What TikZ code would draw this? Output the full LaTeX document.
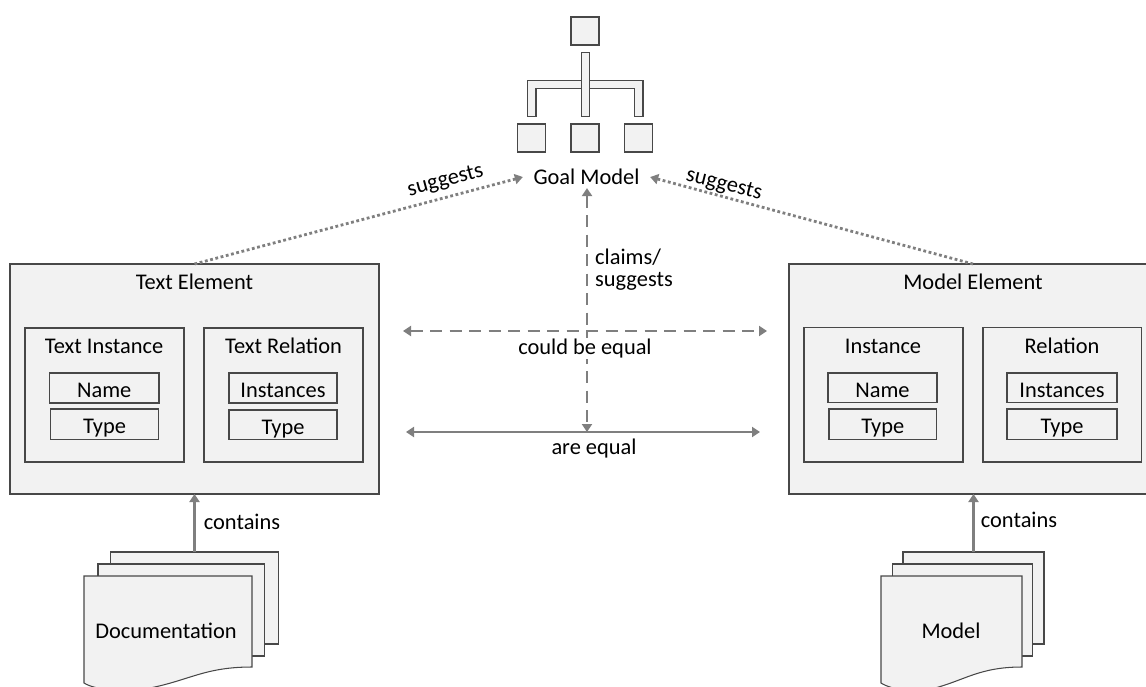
\documentclass[tikz,border=0pt]{standalone}
\usepackage{fontspec}
\setmainfont{Carlito}
\usetikzlibrary{arrows.meta}
\definecolor{fillg}{HTML}{F2F2F2}
\definecolor{edgeg}{HTML}{484848}
\definecolor{linkg}{HTML}{7F7F7F}
\newcommand{\fsz}{\fontsize{22.4}{21.5}\selectfont}
\newcommand{\bt}[1]{\raisebox{-9.5pt}[0pt][0pt]{\fsz #1}}
\newcommand{\bx}[6]{%
  \pgfmathsetmacro{\cxx}{(#2+#4)/2}\pgfmathsetmacro{\cyy}{(#3+#5)/2}%
  \pgfmathsetmacro{\wdd}{#4-#2}\pgfmathsetmacro{\htt}{#5-#3}%
  \node[boxst,minimum width=\wdd pt,minimum height=\htt pt] (#1) at (\cxx,\cyy) {#6};}
\tikzset{
  boxst/.style={draw=edgeg,fill=fillg,line width=1.05pt,inner sep=0pt,outer sep=0pt},
  txt/.style={font=\fsz,text=black,inner sep=0pt},
  link/.style={draw=linkg,line width=2.8pt,-{Triangle[length=8pt,width=10pt]}},
  biglink/.style={draw=linkg,line width=2.8pt,{Triangle[length=8pt,width=10pt]}-{Triangle[length=8pt,width=10pt]}},
  dotst/.style={dash pattern=on 2.8pt off 2.6pt},
  dashst/.style={dash pattern=on 12pt off 7.5pt},
}
\begin{document}
\begin{tikzpicture}[x=1pt,y=-1pt]
\useasboundingbox (0,0) rectangle (1146,686);
\begin{scope}
\clip (0,0) rectangle (1146,686);
% goal hierarchy
\bx{gtop}{571}{17}{599}{45}{}
\bx{gl}{517.5}{124}{545.5}{152}{}
\bx{gm}{571}{124}{599}{152}{}
\bx{gr}{624.5}{124}{652.5}{152}{}
\draw[boxst] (581.5,52.5) -- (589.5,52.5) -- (589.5,80.5) -- (643,80.5) -- (643,116.5) -- (634.5,116.5) -- (634.5,88.5) -- (589.5,88.5) -- (589.5,116.5) -- (581.5,116.5) -- (581.5,88.5) -- (536,88.5) -- (536,116.5) -- (527.5,116.5) -- (527.5,80.5) -- (581.5,80.5) -- cycle;
\draw[edgeg,line width=1.05pt] (581.5,80.5) -- (581.5,88.5) (589.5,80.5) -- (589.5,88.5);
% text element
\bx{te}{10}{264}{379}{494}{}
\bx{ti}{25}{328}{184}{462}{}
\bx{tr}{204}{328}{363}{462}{}
\bx{tin}{49.5}{373}{159}{403}{\bt{Name}}
\bx{tit}{50.5}{409}{158.5}{439.5}{\bt{Type}}
\bx{tri}{229}{373}{337}{403}{\bt{Instances}}
\bx{trt}{229}{410}{337}{439.5}{\bt{Type}}
\node[txt] (tel) at (194.5,282) {Text Element};
\node[txt] (til) at (104,346) {Text Instance};
\node[txt] (trl) at (283.5,346) {Text Relation};
% model element
\bx{me}{789}{264}{1146.5}{494}{}
\bx{mi}{804}{327.5}{963}{462}{}
\bx{mr}{983}{327.5}{1141.5}{462}{}
\bx{min}{828}{373}{937}{402.5}{\bt{Name}}
\bx{mit}{829}{409}{936.5}{439.5}{\bt{Type}}
\bx{mri}{1007}{373}{1117}{402.5}{\bt{Instances}}
\bx{mrt}{1007}{409}{1117}{439.5}{\bt{Type}}
\node[txt] (mel) at (973,282) {Model Element};
\node[txt] (mil) at (883,346) {Instance};
\node[txt] (mrl) at (1062,346) {Relation};
% documents
\bx{da}{110.5}{552}{278.5}{644}{}
\bx{db}{98}{564}{264.5}{656}{}
\draw[boxst] (84,576) -- (252,576) -- (252,667) .. controls (205,667) and (190,680) .. (150,688) .. controls (125,693) and (95,690) .. (84,683) -- cycle;
\node[txt] (dl) at (166,631) {Documentation};
\bx{ma}{903}{552}{1044}{644}{}
\bx{mb}{892.5}{564}{1032.5}{656}{}
\draw[boxst] (881,576) -- (1022,576) -- (1022,667) .. controls (980,667) and (965,680) .. (935,688) .. controls (915,693) and (892,690) .. (881,683) -- cycle;
\node[txt] (ml) at (951,631) {Model};
% labels and connectors
\node[txt,inner xsep=10.5pt,inner ysep=3pt] (goal) at (586.5,177) {Goal Model};
\coordinate (vend) at (587,432);
\coordinate (vtop) at (goal.south -| vend);
\draw[biglink,dashst] (vtop) -- (vend);
\node[txt,fill=white,inner sep=1pt] (cbe) at (585,348.5) {could be equal};
\coordinate (hdl) at (403,331);
\coordinate (hdr) at (767,331);
\draw[biglink,dashst] (hdl) -- (hdr);
\coordinate (hsl) at (406,432);
\coordinate (hsr) at (760,432);
\draw[biglink] (hsl) -- (hsr);
\node[txt] (are) at (594,448.5) {are equal};
\node[txt,align=left,anchor=west] (cs) at (595,269.5) {claims/\\suggests};
\draw[link,dotst] (te.north) -- (goal.west);
\coordinate (mtop) at (973,264);
\draw[link,dotst] (mtop) -- (goal.east);
\node[txt,rotate=15] (sl) at (445.5,181) {suggests};
\node[txt,rotate=-14] (sr) at (724,185) {suggests};
\draw[link] (da.north) -- (te.south);
\draw[link] (ma.north) -- (ma.north |- me.south);
\node[txt] (cl) at (242,522) {contains};
\node[txt] (cr) at (1019,520) {contains};
\end{scope}
\end{tikzpicture}
\end{document}
